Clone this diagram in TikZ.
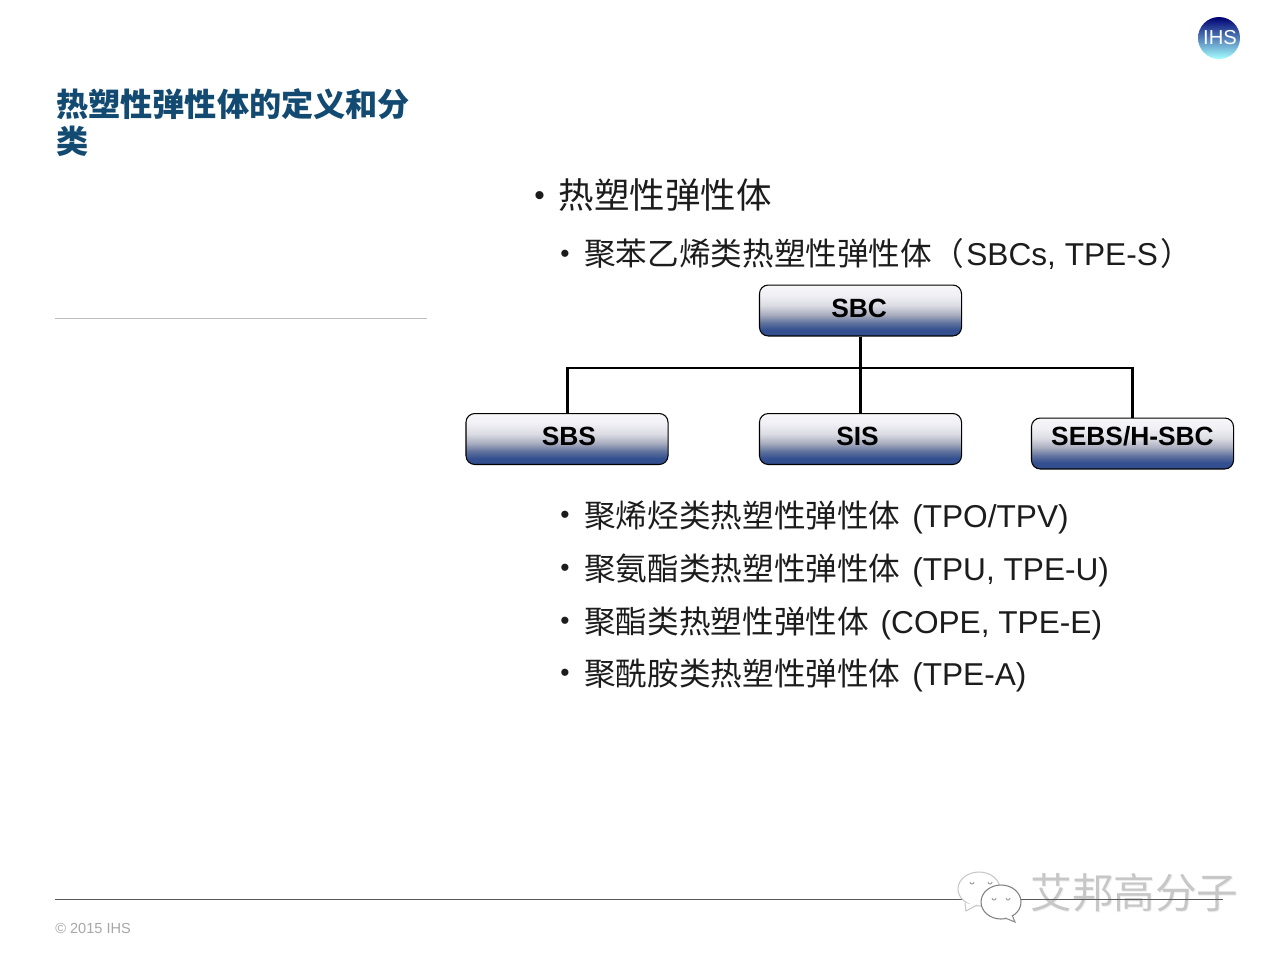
\documentclass[tikz,border=0pt]{standalone}
\usepackage{fontspec}
\setmainfont{Liberation Sans}
\newfontfamily\cjk{Noto Sans CJK SC}
\usetikzlibrary{arrows.meta}
\definecolor{titleblue}{HTML}{124A72}
\definecolor{bodyblack}{HTML}{1C1C1C}
\pgfdeclareverticalshading{boxshade}{100bp}{
  rgb(0bp)=(0.18,0.29,0.55);
  rgb(31bp)=(0.20,0.31,0.56);
  rgb(38bp)=(0.38,0.45,0.62);
  rgb(46bp)=(0.66,0.68,0.75);
  rgb(55bp)=(0.86,0.86,0.89);
  rgb(65bp)=(0.94,0.94,0.96);
  rgb(75bp)=(0.97,0.97,0.98);
  rgb(100bp)=(0.97,0.97,0.98)}
\newcommand{\itemdot}{\makebox[13.6pt][l]{\fontsize{15}{15}\selectfont\raisebox{2pt}{•}}}

\begin{document}
\begin{tikzpicture}[x=0.02cm,y=-0.02cm]
  \tikzset{box/.style = {shape=rectangle,draw=black,line width=0.6pt,rounded corners=5pt,
      minimum width=115pt,minimum height=29pt,inner sep=0pt,shading=boxshade,
      font=\fontsize{15}{15}\selectfont\bfseries,text depth=3pt}}
  \tikzset{link/.style = {draw=black,line width=1.7pt}}
  \tikzset{itemmain/.style = {anchor=west,inner sep=0pt,text=bodyblack,font=\fontsize{20.2}{20.2}\selectfont}}
  \tikzset{itemsub/.style = {anchor=west,inner sep=0pt,text=bodyblack,font=\fontsize{18}{18}\selectfont}}
  \useasboundingbox (0,0) rectangle (1280,960);

  \node[anchor=north west,inner sep=0pt,align=left,text=titleblue,font=\fontsize{18.3}{21}\selectfont\cjk\bfseries]
    (title) at (56,88) {热塑性弹性体的定义和分\\类};
  \draw[line width=0.5pt,draw=black!25] (55,318) -- (427,318);

  \node[itemmain] (head) at (534,195) {\makebox[14pt][l]{\fontsize{17}{17}\selectfont\raisebox{1.5pt}{•}}{\cjk 热塑性弹性体}};
  \node[itemsub] (sbcs) at (560,254) {\itemdot{\cjk 聚苯乙烯类热塑性弹性体（}\kern1.5pt SBCs, TPE-S\kern1.5pt{\cjk ）}};

  \node[box] (SBC) at (860.5,310.5) {\kern-1.5pt SBC};
  \node[box] (SBS) at (567,439) {\kern2.2pt SBS};
  \node[box] (SIS) at (860.5,439) {\kern-3.4pt SIS};
  \node[box,text depth=8.6pt] (SEBS) at (1132.5,443.5) {SEBS/H-SBC};
  \coordinate (bus) at (860,368);

  \foreach \from/\to in {SBC/SBS, SBC/SIS, SBC/SEBS}
    \draw[link] (\from.south) |- (bus) -| (\to.north);

  \node[itemsub] (tpo) at (560,517) {\itemdot{\cjk 聚烯烃类热塑性弹性体}\kern1.7pt{} (TPO/TPV)};
  \node[itemsub] (tpu) at (560,570) {\itemdot{\cjk 聚氨酯类热塑性弹性体}\kern1.7pt{} (TPU, TPE-U)};
  \node[itemsub] (cope) at (560,623) {\itemdot{\cjk 聚酯类热塑性弹性体}\kern1.7pt{} (COPE, TPE-E)};
  \node[itemsub] (tpea) at (560,675) {\itemdot{\cjk 聚酰胺类热塑性弹性体}\kern1.7pt{} (TPE-A)};

  % footer
  \node[anchor=west,inner sep=0pt,text=black!35,font=\fontsize{8.3}{8.3}\selectfont] (copy) at (55,928) {© 2015 IHS};

  % watermark
  \node[anchor=west,inner sep=0pt,text=black!6,font=\fontsize{23.7}{23.7}\selectfont\cjk] (markshadow) at (1031,894) {艾邦高分子};
  \node[anchor=west,inner sep=0pt,text=black!22,font=\fontsize{23.7}{23.7}\selectfont\cjk] (marktext) at (1030,893) {艾邦高分子};
  \draw[line width=0.5pt,draw=black!65] (55,899) -- (1223,899);
  \draw[draw=black!22,fill=white,line width=0.6pt] (979,889) ellipse (21 and 17);
  \draw[draw=black!22,fill=white,line width=0.6pt] (965,903) -- (966,911) -- (977,905);
  \draw[draw=black!50,fill=white,line width=0.6pt] (1001,902) ellipse (20 and 17);
  \draw[draw=black!45,fill=white,line width=0.6pt] (1005,918) -- (1015,922) -- (1012,915);
  \foreach \eyex/\eyey in {972/881, 990/881, 994/897, 1008/897}
    \draw[draw=black!35,line width=0.6pt] (\eyex-2,\eyey+1) arc (180:0:2);

  % logo
  \shade[top color=blue!45!black,middle color=blue!55!cyan!85!black,bottom color=cyan!35!white] (1219,38) circle (21);
  \node[text=white,inner sep=0pt,font=\fontsize{11.5}{11.5}\selectfont\rmfamily] (logo) at (1220,38) {IHS};
\end{tikzpicture}
\end{document}
